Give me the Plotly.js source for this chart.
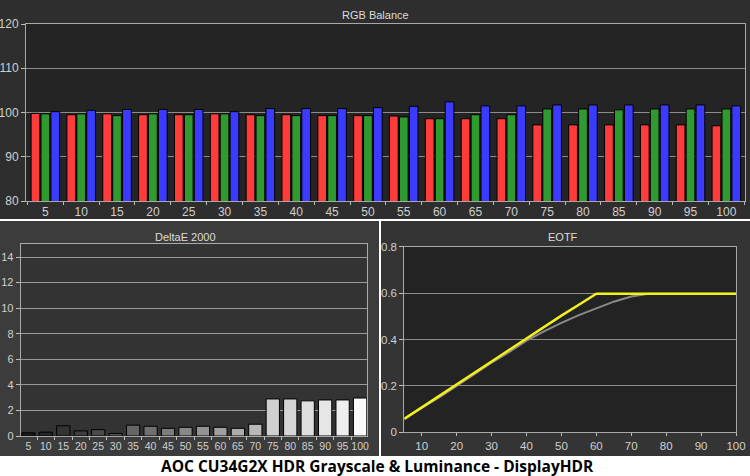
<!DOCTYPE html>
<html>
<head>
<meta charset="utf-8">
<script src="https://cdn.plot.ly/plotly-3.0.1.min.js"></script>
<style>html,body{margin:0;padding:0;background:#fff;}#chart{width:750px;height:476px;}</style>
</head>
<body>
<div id="chart"></div>
<script>
// ---- data ----
const stimulus = ['5','10','15','20','25','30','35','40','45','50','55','60','65','70','75','80','85','90','95','100'];
const redVals   = [99.8,99.5,99.7,99.5,99.5,99.7,99.5,99.5,99.3,99.3,99.2,98.6,98.6,98.6,97.2,97.2,97.2,97.2,97.2,97.0];
const greenVals = [99.7,99.7,99.3,99.7,99.5,99.7,99.3,99.3,99.3,99.3,99.0,98.6,99.5,99.5,100.8,100.8,100.6,100.8,100.8,100.8];
const blueVals  = [100.2,100.5,100.7,100.7,100.7,100.2,100.9,100.9,100.9,101.1,101.4,102.4,101.5,101.5,101.7,101.7,101.7,101.7,101.7,101.5];
const deltaE    = [0.25,0.3,0.8,0.4,0.5,0.2,0.85,0.76,0.6,0.68,0.76,0.68,0.6,0.92,2.9,2.9,2.75,2.82,2.82,2.97];
const eotfX     = [5,10,15,20,25,30,35,40,45,50,55,60,65,70,75,80,85,90,95,100];
const eotfTarget   = [0.06,0.105,0.15,0.2,0.25,0.3,0.345,0.395,0.435,0.472,0.505,0.535,0.563,0.585,0.597,0.597,0.597,0.597,0.597,0.597];
const eotfMeasured = [0.058,0.107,0.155,0.207,0.255,0.305,0.355,0.405,0.455,0.503,0.55,0.597,0.597,0.597,0.597,0.597,0.597,0.597,0.597,0.597];
const deltaEColors = ['#1c1c1c','#262626','#333333','#3e3e3e','#4a4a4a','#555555','#666666','#707070','#7c7c7c','#888888','#949494','#a0a0a0','#acacac','#b8b8b8','#cfcfcf','#d6d6d6','#dedede','#e6e6e6','#eeeeee','#fafafa'];

// ---- layout helpers ----
const W = 750, H = 476;
const px = v => v / W;
const py = v => 1 - v / H;
const FONT = 'Liberation Sans, Arial, sans-serif';
const tickCol = '#cfcfcf';

const traces = [
  {type:'bar', x:stimulus, y:redVals, xaxis:'x', yaxis:'y', marker:{color:'#ff3b3b', line:{color:'#000', width:1}}, hoverinfo:'y'},
  {type:'bar', x:stimulus, y:greenVals, xaxis:'x', yaxis:'y', marker:{color:'#2f9a2f', line:{color:'#000', width:1}}, hoverinfo:'y'},
  {type:'bar', x:stimulus, y:blueVals, xaxis:'x', yaxis:'y', marker:{color:'#3b3bff', line:{color:'#000', width:1}}, hoverinfo:'y'},
  {type:'bar', x:stimulus, y:deltaE, xaxis:'x2', yaxis:'y2', width:0.76, marker:{color:deltaEColors, line:{color:'#000', width:1}}, hoverinfo:'y'},
  {type:'scatter', mode:'lines', x:eotfX, y:eotfTarget, xaxis:'x3', yaxis:'y3', line:{color:'#8a8a8a', width:2}, hoverinfo:'y'},
  {type:'scatter', mode:'lines', x:eotfX, y:eotfMeasured, xaxis:'x3', yaxis:'y3', line:{color:'#f2f21a', width:2.5}, hoverinfo:'y'}
];

const dTop = {x:[px(26), px(745)], y:[py(201), py(24)]};
const dDE  = {x:[px(20.7), px(366.7)], y:[py(436), py(244.3)]};
const dEO  = {x:[px(404.3), px(736)], y:[py(432.3), py(246.7)]};

function rect(d, color){
  return {type:'rect', xref:'paper', yref:'paper', x0:d.x[0], x1:d.x[1], y0:d.y[0], y1:d.y[1], fillcolor:color, line:{width:0}, layer:'below'};
}

const axCommon = {
  showline:true, mirror:true, linecolor:'#a8a8a8', linewidth:1,
  tickfont:{family:FONT, color:tickCol, size:12},
  ticks:'outside', tickcolor:'#bdbdbd', ticklen:3, fixedrange:true, zeroline:false, tickangle:0
};

const layout = {
  width:W, height:H,
  margin:{l:0, r:0, t:0, b:0},
  paper_bgcolor:'#ffffff',
  plot_bgcolor:'rgba(0,0,0,0)',
  showlegend:false,
  barmode:'group', bargap:0.17, bargroupgap:0.12,
  font:{family:FONT, color:tickCol},
  xaxis: Object.assign({}, axCommon, {domain:dTop.x, anchor:'y', type:'category', range:[-0.54, 19.52], tickson:'boundaries', showgrid:false}),
  yaxis: Object.assign({}, axCommon, {domain:dTop.y, anchor:'x', range:[80,120], dtick:10, tick0:80, showgrid:true, gridcolor:'#8c8c8c', gridwidth:1, ticklen:4}),
  xaxis2: Object.assign({}, axCommon, {domain:dDE.x, anchor:'y2', type:'category', range:[-0.44, 19.38], tickson:'boundaries', showgrid:false, tickfont:{family:FONT, color:tickCol, size:10.5}}),
  yaxis2: Object.assign({}, axCommon, {domain:dDE.y, anchor:'x2', range:[0,15], dtick:2, tick0:0, showgrid:true, gridcolor:'#9a9a9a', gridwidth:1, ticklen:4, tickfont:{family:FONT, color:tickCol, size:11}}),
  xaxis3: Object.assign({}, axCommon, {domain:dEO.x, anchor:'y3', range:[5,100], dtick:10, tick0:0, showgrid:false, tickfont:{family:FONT, color:tickCol, size:11.5}}),
  yaxis3: Object.assign({}, axCommon, {domain:dEO.y, anchor:'x3', range:[0,0.8], dtick:0.2, tick0:0, showgrid:true, gridcolor:'#8c8c8c', gridwidth:1, ticklen:4, tickfont:{family:FONT, color:tickCol, size:11.5}}),
  shapes:[
    {type:'rect', xref:'paper', yref:'paper', x0:0, x1:1, y0:py(219), y1:1, fillcolor:'#2e2e2e', line:{width:0}, layer:'below'},
    {type:'rect', xref:'paper', yref:'paper', x0:0, x1:px(379), y0:py(456), y1:py(221), fillcolor:'#3c3c3c', line:{width:0}, layer:'below'},
    {type:'rect', xref:'paper', yref:'paper', x0:px(381), x1:1, y0:py(456), y1:py(221), fillcolor:'#343434', line:{width:0}, layer:'below'},
    rect(dTop, '#242424'),
    rect(dDE, '#333333'),
    rect(dEO, '#232323')
  ],
  annotations:[
    {text:'RGB Balance', xref:'paper', yref:'paper', x:0.5, y:py(15), showarrow:false, xanchor:'center', yanchor:'middle', font:{family:FONT, size:11, color:'#dcdcdc'}},
    {text:'DeltaE 2000', xref:'paper', yref:'paper', x:px(185), y:py(237), showarrow:false, xanchor:'center', yanchor:'middle', font:{family:FONT, size:11, color:'#dcdcdc'}},
    {text:'EOTF', xref:'paper', yref:'paper', x:px(563), y:py(237), showarrow:false, xanchor:'center', yanchor:'middle', font:{family:FONT, size:11, color:'#dcdcdc'}},
    {text:'<b>AOC CU34G2X HDR Grayscale &amp; Luminance - DisplayHDR</b>', xref:'paper', yref:'paper', x:px(377.5), y:py(466), showarrow:false, xanchor:'center', yanchor:'middle', font:{family:'Open Sans, sans-serif', size:15.5, color:'#000'}}
  ]
};

Plotly.newPlot('chart', traces, layout, {displayModeBar:false, staticPlot:true});
</script>
</body>
</html>
